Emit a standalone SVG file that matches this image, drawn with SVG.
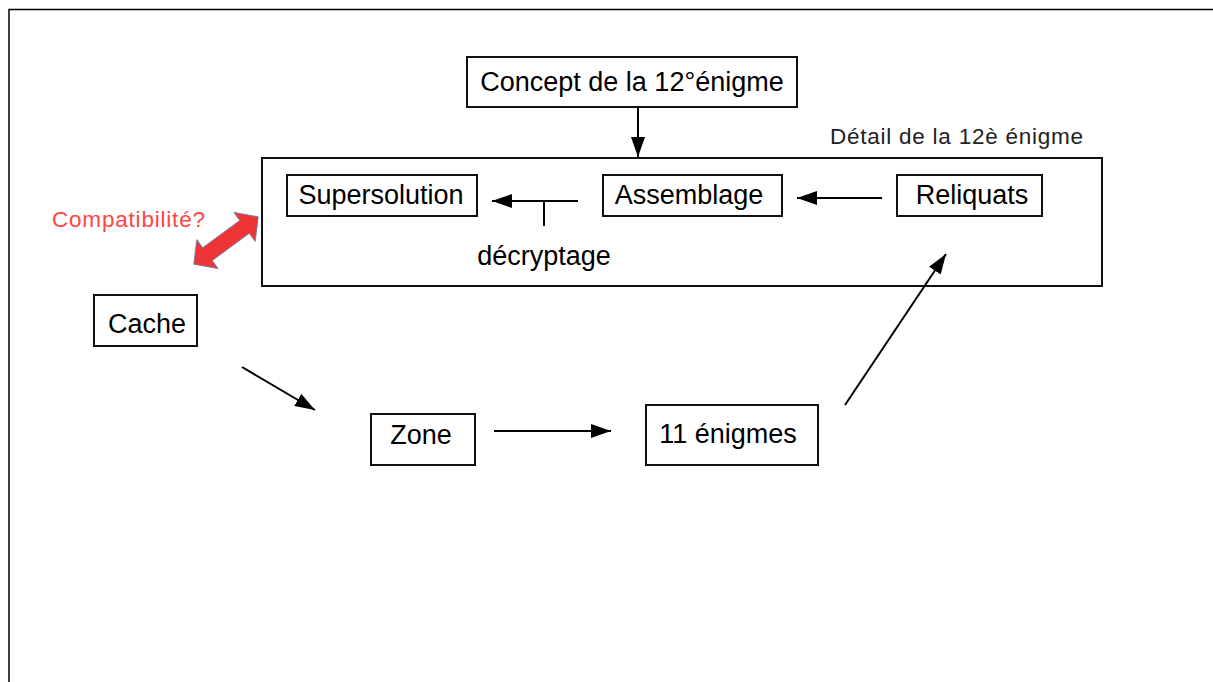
<svg xmlns="http://www.w3.org/2000/svg" width="1213" height="682" viewBox="0 0 1213 682">
<defs>
<style>
.box{fill:#fff;stroke:#111;stroke-width:2}
.t{font-family:"Liberation Sans",Arial,sans-serif;font-size:27px;fill:#000}
.s{font-family:"Liberation Sans",Arial,sans-serif;font-size:22.5px}
.ln{stroke:#000;stroke-width:2;fill:none}
</style>
<marker id="ah" viewBox="0 0 20 14" refX="20" refY="7" markerWidth="20" markerHeight="14" markerUnits="userSpaceOnUse" orient="auto">
<path d="M0,0 L20,7 L0,14 Z" fill="#000"/>
</marker>
</defs>
<rect width="1213" height="682" fill="#fff"/>
<path d="M9,682 V9.5 H1213" fill="none" stroke="#000" stroke-width="1.5"/>

<g id="frame12">
<rect x="262" y="158" width="840" height="128" class="box"/>
<text x="830" y="144" class="s" fill="#222" textLength="253">Détail de la 12è énigme</text>
</g>
<g id="concept">
<rect x="467" y="57" width="330" height="50" class="box"/>
<text x="632" y="91" class="t" text-anchor="middle">Concept de la 12°énigme</text>
</g>
<g id="supersolution">
<rect x="287" y="175" width="190" height="41" class="box"/>
<text x="381" y="204" class="t" text-anchor="middle">Supersolution</text>
</g>
<g id="assemblage">
<rect x="603" y="175" width="179" height="41" class="box"/>
<text x="689" y="204" class="t" text-anchor="middle">Assemblage</text>
</g>
<g id="reliquats">
<rect x="897" y="175" width="145" height="41" class="box"/>
<text x="972" y="204" class="t" text-anchor="middle">Reliquats</text>
</g>
<g id="cache">
<rect x="94" y="295" width="103" height="51" class="box"/>
<text x="147" y="333" class="t" text-anchor="middle">Cache</text>
</g>
<g id="zone">
<rect x="371" y="414" width="104" height="51" class="box"/>
<text x="421" y="444" class="t" text-anchor="middle">Zone</text>
</g>
<g id="enigmes">
<rect x="646" y="405" width="172" height="60" class="box"/>
<text x="728" y="443" class="t" text-anchor="middle">11 énigmes</text>
</g>
<g id="compat">
<text x="52" y="227" class="s" fill="#f44" textLength="153">Compatibilité?</text>
<polygon transform="translate(226,240.5) rotate(-36.3)" points="-40,0 -23,-18 -23,-8 23,-8 23,-18 40,0 23,18 23,8 -23,8 -23,18" fill="#ee3535" stroke="#6a7aa8" stroke-width="0.8"/>
</g>
<g id="connectors">
<line x1="638" y1="107" x2="638" y2="157" class="ln" marker-end="url(#ah)"/>
<line x1="882" y1="198" x2="797" y2="198" class="ln" marker-end="url(#ah)"/>
<line x1="578" y1="201" x2="492" y2="201" class="ln" marker-end="url(#ah)"/>
<line x1="544" y1="201" x2="544" y2="226" class="ln"/>
<text x="544" y="265" class="t" text-anchor="middle">décryptage</text>
<line x1="242" y1="367" x2="315" y2="410" class="ln" marker-end="url(#ah)"/>
<line x1="494" y1="431" x2="611" y2="431" class="ln" marker-end="url(#ah)"/>
<line x1="845" y1="405" x2="946" y2="254" class="ln" marker-end="url(#ah)"/>
</g>
</svg>
